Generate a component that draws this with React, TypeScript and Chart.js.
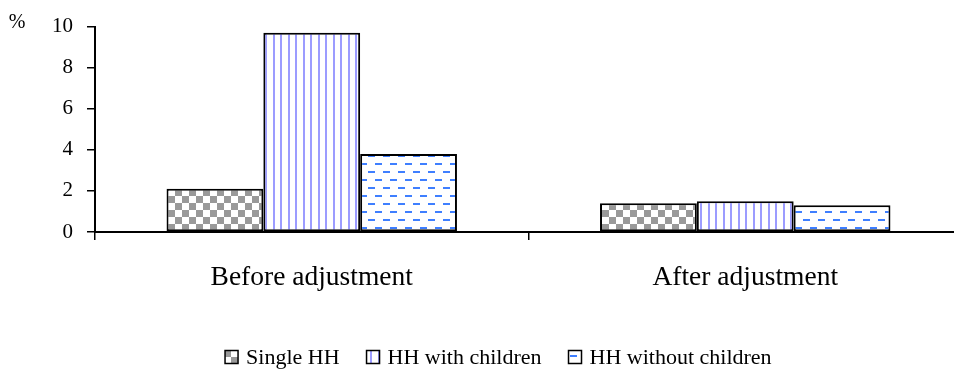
import React, { useEffect, useRef } from "react";
import { Chart, registerables } from "chart.js";

Chart.register(...registerables);

const categories = ["Before adjustment", "After adjustment"];
const seriesNames = ["Single HH", "HH with children", "HH without children"];
const singleHH = [2.1, 1.4];
const withChildren = [9.7, 1.5];
const withoutChildren = [3.8, 1.3];
const yTicks = [0, 2, 4, 6, 8, 10];
const yUnit = "%";

const FONT = "'Liberation Serif', 'Times New Roman', serif";

function makePattern(kind: string): CanvasPattern | string {
  const c = document.createElement("canvas");
  const ctx = c.getContext("2d");
  if (!ctx) return "#999";
  if (kind === "checker") {
    c.width = 14;
    c.height = 14;
    ctx.fillStyle = "#ffffff";
    ctx.fillRect(0, 0, 14, 14);
    ctx.fillStyle = "#999999";
    ctx.fillRect(0, 0, 7, 7);
    ctx.fillRect(7, 7, 7, 7);
  } else if (kind === "vlines") {
    c.width = 15;
    c.height = 4;
    ctx.fillStyle = "#ffffff";
    ctx.fillRect(0, 0, 15, 4);
    ctx.fillStyle = "#9c9cff";
    ctx.fillRect(3, 0, 2, 4);
    ctx.fillRect(10, 0, 2, 4);
  } else {
    c.width = 15;
    c.height = 16;
    ctx.fillStyle = "#ffffff";
    ctx.fillRect(0, 0, 15, 16);
    ctx.fillStyle = "#3f7fff";
    ctx.fillRect(0, 3, 7, 2);
    ctx.fillRect(8, 11, 7, 2);
  }
  return ctx.createPattern(c, "repeat") || "#999";
}

export default function App() {
  const ref = useRef<HTMLCanvasElement | null>(null);

  useEffect(() => {
    const canvas = ref.current;
    if (!canvas) return;
    const fills = [makePattern("checker"), makePattern("vlines"), makePattern("dashes")];
    const seriesValues = [singleHH, withChildren, withoutChildren];

    const extras = {
      id: "extras",
      afterDraw(chart: any) {
        const ctx = chart.ctx;
        const area = chart.chartArea;
        ctx.save();
        // unit label
        ctx.fillStyle = "#000";
        ctx.font = `20px ${FONT}`;
        ctx.textAlign = "center";
        ctx.textBaseline = "middle";
        ctx.fillText(yUnit, 17, area.top - 4);
        // legend
        ctx.font = `22px ${FONT}`;
        const box = 13;
        const gap = 8;
        const spacing = 27;
        const widths = seriesNames.map((n) => ctx.measureText(n).width);
        const total =
          widths.reduce((a, b) => a + b, 0) + seriesNames.length * (box + gap) + spacing * (seriesNames.length - 1);
        let x = chart.width * 0.518 - total / 2;
        const yMid = 357;
        ctx.textAlign = "left";
        seriesNames.forEach((n, i) => {
          ctx.fillStyle = fills[i] as any;
          ctx.fillRect(x, yMid - box / 2, box, box);
          ctx.lineWidth = 1.5;
          ctx.strokeStyle = "#000";
          ctx.strokeRect(x, yMid - box / 2, box, box);
          ctx.fillStyle = "#000";
          ctx.fillText(n, x + box + gap, yMid + 1);
          x += box + gap + widths[i] + spacing;
        });
        ctx.restore();
      },
    };

    const chart = new Chart(canvas, {
      type: "bar",
      data: {
        labels: categories,
        datasets: seriesNames.map((name, i) => ({
          label: name,
          data: seriesValues[i],
          backgroundColor: fills[i] as any,
          borderColor: "#000",
          borderWidth: 2,
          borderSkipped: false,
          categoryPercentage: 0.67,
          barPercentage: 1.0,
        })),
      },
      options: {
        animation: false,
        responsive: false,
        devicePixelRatio: 1,
        layout: { padding: { top: 26, left: 0, right: 0, bottom: 0 } },
        plugins: {
          legend: { display: false },
          tooltip: { enabled: false },
        },
        scales: {
          x: {
            grid: {
              offset: true,
              drawOnChartArea: false,
              drawTicks: true,
              tickLength: 8,
              color: "#000",
              lineWidth: 1.5,
            },
            border: { display: true, color: "#000", width: 2 },
            ticks: {
              color: "#000",
              font: { family: FONT, size: 27.5 },
              padding: 21,
            },
            afterFit: (scale: any) => {
              scale.height = 149;
            },
          },
          y: {
            min: 0,
            max: 10,
            afterBuildTicks: (scale: any) => {
              scale.ticks = yTicks.map((v) => ({ value: v }));
            },
            grid: {
              drawOnChartArea: false,
              drawTicks: true,
              tickLength: 8,
              color: "#000",
              lineWidth: 1.5,
            },
            border: { display: true, color: "#000", width: 2 },
            ticks: {
              color: "#000",
              font: { family: FONT, size: 21 },
              padding: 14,
            },
            afterFit: (scale: any) => {
              scale.width = 95;
            },
          },
        },
      },
      plugins: [extras],
    });
    return () => chart.destroy();
  }, []);

  return (
    <div
      style={{
        position: "fixed",
        left: 0,
        top: 0,
        width: 954,
        height: 381,
        overflow: "hidden",
        background: "#fff",
      }}
    >
      <canvas ref={ref} width={962} height={381} style={{ display: "block" }} />
    </div>
  );
}
